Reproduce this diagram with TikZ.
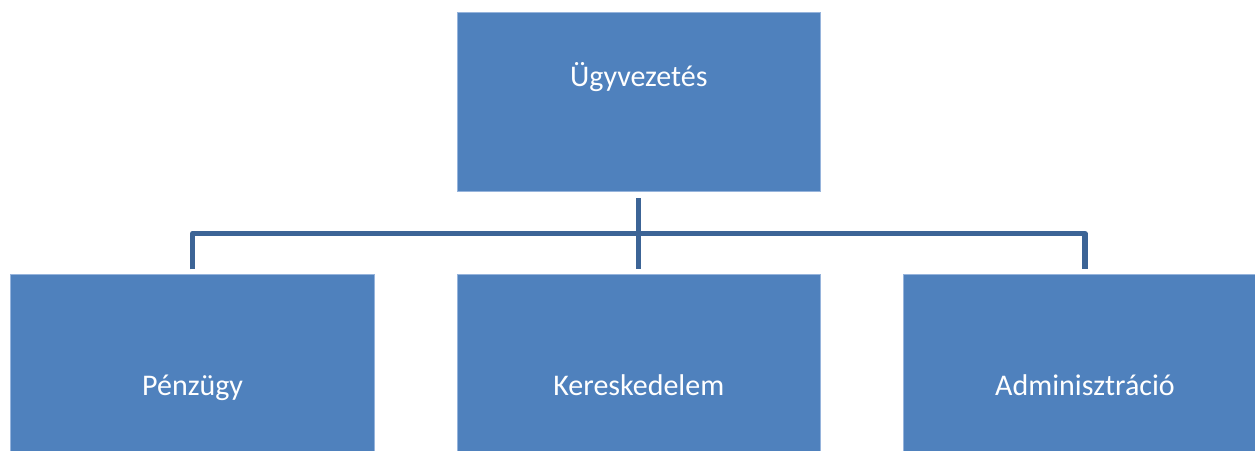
\documentclass[tikz,border=0pt]{standalone}
\usepackage{fontspec}
\setmainfont{Carlito}
\usepackage{xcolor}
\definecolor{unitblue}{RGB}{79,129,189}
\definecolor{unitedge}{RGB}{150,180,220}
\definecolor{linkblue}{RGB}{60,100,150}
\usepackage{tikz}
\newcommand{\widthunit}{363.5pt}
\tikzset{
    unit/.style={draw=unitedge, fill=unitblue, line width=0.8pt, rectangle, anchor=north, inner sep=0pt, minimum width=\widthunit, text=white, font=\fontsize{30}{36}\selectfont},
    head/.style={unit, text height=74pt, text depth=105pt},
    dept/.style={unit, text height=121pt, text depth=58pt},
    link/.style={draw=linkblue, line width=5.3pt, line join=round},
}
\begin{document}
\begin{tikzpicture}
    \useasboundingbox (0,0) rectangle (1255pt,-450pt);
    \clip (0,0) rectangle (1255pt,-450pt);

    \node[head] (top) at (638.8pt,-12.3pt) {Ügyvezetés};
    \node[dept] (pen) at (192.6pt,-274.3pt) {Pénzügy};
    \node[dept] (ker) at (638.8pt,-274.3pt) {Kereskedelem};
    \node[dept] (adm) at (1085pt,-274.3pt) {Adminisztráció};

    \coordinate (bus) at (638.8pt,-233.5pt);
    \draw[link, shorten <=6pt, shorten >=5pt] (top) -- (ker);
    \draw[link, shorten <=5pt, shorten >=5pt] (pen.north) |- (bus) -| (adm.north);
\end{tikzpicture}
\end{document}
